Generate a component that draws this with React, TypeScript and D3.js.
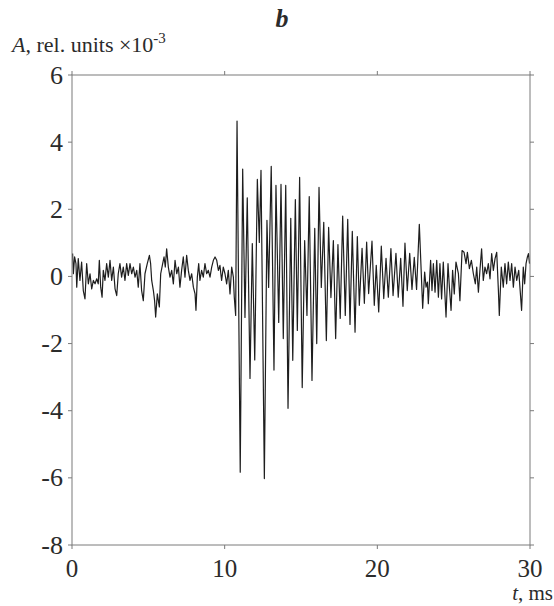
import React from 'react';
import * as d3 from 'd3';

// time (ms) and amplitude (x10^-3 rel. units)
const quietTime = [0.04, 0.09, 0.17, 0.26, 0.31, 0.41, 0.52, 0.63, 0.74, 0.85, 0.96, 1.07, 1.18, 1.29, 1.40, 1.51, 1.62, 1.72, 1.79, 1.88, 1.97, 2.05, 2.16, 2.27, 2.38, 2.49, 2.60, 2.71, 2.82, 2.93, 3.03, 3.14, 3.25, 3.36, 3.47, 3.58, 3.69, 3.80, 3.91, 4.02, 4.13, 4.24, 4.34, 4.45, 4.56, 4.67, 4.78, 4.93, 5.07, 5.15, 5.22, 5.33, 5.41, 5.48, 5.59, 5.72, 5.81, 5.94, 6.03, 6.11, 6.20, 6.31, 6.42, 6.53, 6.64, 6.75, 6.86, 6.97, 7.07, 7.18, 7.29, 7.40, 7.51, 7.62, 7.73, 7.84, 7.95, 8.06, 8.12, 8.21, 8.30, 8.38, 8.49, 8.60, 8.71, 8.82, 8.93, 9.04, 9.15, 9.26, 9.37, 9.48, 9.59, 9.69, 9.80, 9.91, 10.02, 10.13, 10.24, 10.35, 10.46, 10.57, 10.63, 10.72];
const quietAmp = [0.68, 0.08, 0.58, 0.38, -0.32, 0.53, -0.12, 0.43, -0.42, -0.67, 0.38, -0.22, 0.08, -0.37, -0.12, -0.22, -0.07, -0.22, 0.48, -0.32, -0.62, 0.18, -0.12, 0.38, -0.02, 0.48, -0.12, 0.28, -0.37, -0.57, 0.08, 0.38, -0.02, 0.28, -0.12, 0.38, 0.03, 0.38, 0.08, 0.28, -0.02, 0.18, -0.32, 0.38, -0.42, -0.72, 0.08, 0.38, 0.63, 0.38, -0.12, -0.42, -0.72, -1.21, -0.52, -0.91, 0.08, 0.38, 0.58, 0.28, 0.82, 0.28, -0.02, 0.18, -0.22, 0.48, 0.08, 0.28, -0.32, 0.18, 0.58, -0.02, 0.63, 0.18, -0.12, 0.08, -0.32, -0.52, -1.01, -0.02, 0.38, -0.12, 0.18, -0.02, 0.38, 0.08, 0.18, -0.02, 0.28, 0.48, 0.58, 0.48, 0.18, 0.33, -0.12, 0.28, 0.08, -0.22, 0.18, -0.52, 0.28, -0.02, -0.62, -1.16];

const burstTime = [10.81, 11.02, 11.18, 11.33, 11.48, 11.66, 11.81, 11.97, 12.14, 12.27, 12.38, 12.60, 12.77, 12.88, 13.05, 13.23, 13.36, 13.54, 13.69, 13.84, 14.00, 14.15, 14.33, 14.46, 14.63, 14.76, 14.91, 15.08, 15.24, 15.39, 15.54, 15.72, 15.90, 16.03, 16.18, 16.33, 16.49, 16.66, 16.81, 16.96, 17.12, 17.27, 17.42, 17.57, 17.73, 17.90, 18.06, 18.21, 18.36, 18.54, 18.69, 18.82, 19.00, 19.15, 19.30, 19.43, 19.65, 19.80, 19.93, 20.09, 20.26, 20.42, 20.57, 20.72, 20.89, 21.03, 21.22, 21.37, 21.53, 21.68, 21.81, 21.96, 22.12, 22.27, 22.42, 22.57, 22.75, 22.97];
const burstAmp = [4.63, -5.83, 3.20, -1.22, 2.34, -3.04, 0.98, -2.49, 2.89, 1.01, 3.16, -6.02, 1.67, -0.33, 3.28, -2.79, 2.71, -1.37, 2.74, -1.85, 2.71, -3.93, 1.73, -2.50, 2.29, -1.61, 2.95, -3.31, 1.07, -1.16, 2.38, -3.10, 1.43, -2.00, 2.65, -0.33, 1.61, -1.91, 1.46, -0.63, 1.07, -1.85, 0.95, -1.25, 1.80, -1.16, 1.70, -1.43, 1.34, -1.66, 1.19, -0.86, 0.84, -0.80, 1.02, -0.51, 1.05, -0.86, 0.33, -1.06, 0.90, -0.66, 0.54, -0.62, 0.83, -0.57, 0.69, -0.62, 0.54, -0.89, 0.99, -0.42, 0.69, -0.39, 0.57, -0.39, 1.55, -0.95];

const tailTime = [23.10, 23.19, 23.28, 23.34, 23.49, 23.58, 23.67, 23.78, 23.89, 24.00, 24.10, 24.21, 24.32, 24.50, 24.63, 24.72, 24.83, 24.93, 25.04, 25.15, 25.31, 25.41, 25.55, 25.68, 25.81, 25.90, 26.03, 26.16, 26.29, 26.42, 26.51, 26.62, 26.72, 26.83, 26.94, 27.05, 27.16, 27.27, 27.38, 27.49, 27.60, 27.71, 27.82, 27.93, 27.99, 28.12, 28.25, 28.36, 28.47, 28.58, 28.69, 28.80, 28.91, 29.02, 29.13, 29.26, 29.34, 29.45, 29.56, 29.65, 29.74, 29.83, 29.90, 29.97];
const tailAmp = [0.13, -0.32, -0.17, -0.81, 0.48, -0.42, 0.38, -0.47, 0.48, -0.62, 0.38, -0.67, 0.43, -1.21, 0.38, -0.32, -1.01, 0.18, -0.52, 0.43, 0.08, -0.72, 0.77, 0.72, 0.38, 0.72, 0.23, 0.48, 0.08, -0.22, 0.28, -0.47, 0.18, 0.82, -0.12, 0.28, 0.08, 0.38, -0.07, 0.68, 0.18, 0.53, 0.72, -0.42, -1.16, 0.28, -0.32, 0.38, -0.22, 0.43, -0.12, 0.38, -0.32, 0.28, -0.12, 0.18, -0.32, -1.01, 0.28, -0.22, 0.38, 0.58, 0.68, 0.38];

const xTicks = [0, 10, 20, 30];
const yTicks = [-8, -6, -4, -2, 0, 2, 4, 6];

const FONT = '"Liberation Serif", "Times New Roman", serif';
const TXT = '#2b2b2b';
const FRAME = '#7a7a7a';

export default function App() {
  const width = 554, height = 606;
  const left = 72, right = 530, top = 75, bottom = 545;

  const x = d3.scaleLinear().domain([0, 30]).range([left, right]);
  const y = d3.scaleLinear().domain([-8, 6]).range([bottom, top]);

  const times = quietTime.concat(burstTime, tailTime);
  const amps = quietAmp.concat(burstAmp, tailAmp);
  const points: [number, number][] = times.map((t, i) => [t, amps[i]]);

  const line = d3.line<[number, number]>()
    .x(d => x(d[0]))
    .y(d => y(d[1]));

  const tk = 4;

  return (
    <svg width={width} height={height} style={{ position: 'absolute', left: 0, top: 0, background: '#fff' }}>
      <text x={282} y={27} fontFamily={FONT} fontSize={26} fontWeight="bold" fontStyle="italic" textAnchor="middle" fill={TXT}>b</text>
      <text x={12} y={52} fontFamily={FONT} fontSize={22} fill={TXT}>
        <tspan fontStyle="italic">A</tspan>
        <tspan>, rel. units ×10</tspan>
        <tspan fontSize={15} dy={-9}>-3</tspan>
      </text>

      <path d={line(points) || ''} fill="none" stroke="#1e1e1e" strokeWidth={1.2} strokeLinejoin="round" />

      <rect x={left} y={top} width={right - left} height={bottom - top} fill="none" stroke={FRAME} strokeWidth={1} />

      {xTicks.map(t => (
        <g key={'x' + t}>
          <line x1={x(t)} x2={x(t)} y1={bottom} y2={bottom + tk} stroke={FRAME} />
          <line x1={x(t)} x2={x(t)} y1={top} y2={top - tk} stroke={FRAME} />
          <text x={x(t)} y={577} fontFamily={FONT} fontSize={25} textAnchor="middle" fill={TXT}>{t}</text>
        </g>
      ))}
      {yTicks.map(v => (
        <g key={'y' + v}>
          <line x1={left - tk} x2={left} y1={y(v)} y2={y(v)} stroke={FRAME} />
          <line x1={right} x2={right + tk} y1={y(v)} y2={y(v)} stroke={FRAME} />
          <text x={63} y={y(v) + 8.5} fontFamily={FONT} fontSize={26} textAnchor="end" fill={TXT}>{v}</text>
        </g>
      ))}

      <text x={553} y={600} fontFamily={FONT} fontSize={21} textAnchor="end" fill={TXT}>
        <tspan fontStyle="italic">t</tspan>
        <tspan>, ms</tspan>
      </text>
    </svg>
  );
}
